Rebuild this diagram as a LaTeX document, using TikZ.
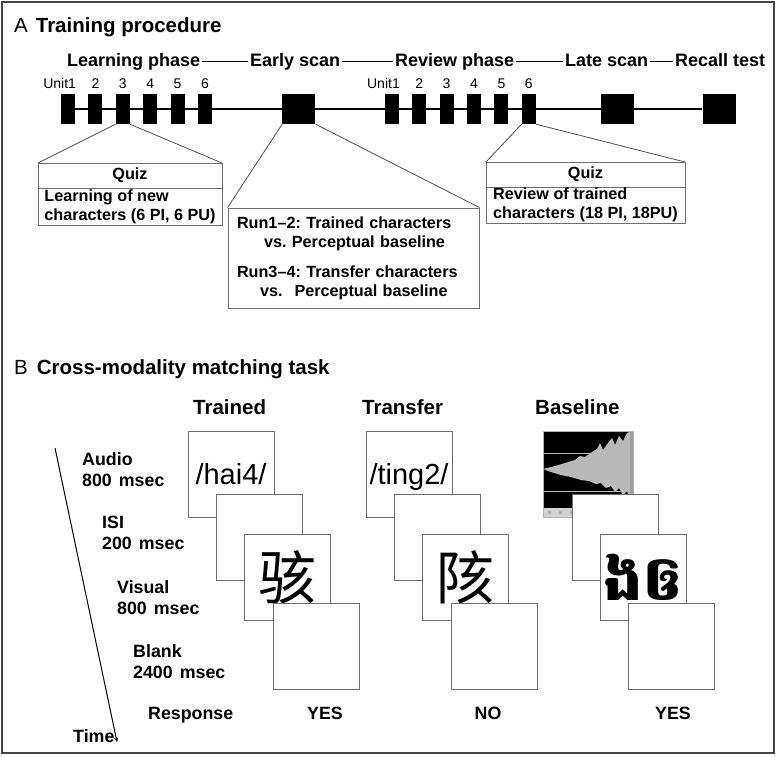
\documentclass[tikz,border=0pt]{standalone}
\usepackage{fontspec}
\setmainfont{Liberation Sans}
\newfontfamily\cjkfont{Noto Sans CJK SC}
\newfontfamily\khmerfont[Script=Khmer]{Battambang}
\usetikzlibrary{positioning, arrows}
\frenchspacing

\definecolor{framegray}{RGB}{70,70,70}
\definecolor{linegray}{RGB}{80,80,80}
\definecolor{boxgray}{RGB}{110,110,110}
\definecolor{wavegray}{RGB}{185,185,185}

\newcommand{\fsHead}{\fontsize{20.5}{24}\selectfont}
\newcommand{\fsPhase}{\fontsize{18}{21}\selectfont}
\newcommand{\fsUnit}{\fontsize{14}{17}\selectfont}
\newcommand{\fsBox}{\fontsize{16.2}{19}\selectfont}
\newcommand{\fsLabel}{\fontsize{17.8}{21}\selectfont}
\newcommand{\fsSound}{\fontsize{29}{34}\selectfont}
\newcommand{\fsGlyph}{\fontsize{58}{60}\selectfont}

\tikzset{
  >=stealth,
  unitbox/.style={fill=black, minimum width=14pt, minimum height=30pt, inner sep=0pt},
  scanbox/.style={fill=black, minimum width=33pt, minimum height=30pt, inner sep=0pt},
  unitlabel/.style={font=\fsUnit, inner sep=0pt},
  phase/.style={font=\fsPhase\bfseries, inner xsep=2pt, inner ysep=0pt, text height=13pt, text depth=4pt},
  phaseline/.style={line width=1.4pt},
  timeline/.style={line width=1.4pt},
  callout/.style={draw=linegray, line width=0.8pt},
  quizhead/.style={draw=boxgray, line width=0.9pt, outer sep=0pt, font=\fsBox\bfseries, minimum height=25pt, inner sep=0pt},
  quizbody/.style={draw=boxgray, line width=0.9pt, outer sep=0pt, font=\fsBox\bfseries, align=left, minimum height=37pt, inner sep=1pt},
  runbox/.style={draw=boxgray, line width=0.9pt, font=\fsBox\bfseries, align=left, text width=233pt, inner xsep=9pt, minimum height=100pt},
  stimbox/.style={draw=boxgray, line width=0.9pt, fill=white, minimum size=86pt, inner sep=0pt},
  sound/.style={font=\fsSound, text height=21pt, text depth=1pt},
  steplabel/.style={font=\fsLabel\bfseries, align=left, inner sep=0pt, anchor=north west},
  colhead/.style={font=\fsHead\bfseries, inner sep=0pt, anchor=base west},
  answer/.style={font=\fsLabel\bfseries, inner sep=0pt, anchor=base},
}

\begin{document}
\begin{tikzpicture}[x=1pt, y=-1pt]
  \useasboundingbox (0,0) rectangle (777,756);
  \draw[framegray, line width=2pt] (2,2) rectangle (774,753);

  % A: training procedure
  \node[anchor=base west, inner sep=0pt, font=\fsHead] (secA) at (14,32) {A\hspace{8pt}\bfseries Training procedure};

  \node[phase, anchor=base west] (lp) at (65,66)  {Learning phase};
  \node[phase, anchor=base west] (ep) at (248,66) {Early scan};
  \node[phase, anchor=base west] (rp) at (393,66) {Review phase};
  \node[phase, anchor=base west] (lt) at (563,66) {Late scan};
  \node[phase, anchor=base west] (rc) at (673,66) {Recall test};
  \draw[phaseline] (lp) -- (ep) (ep) -- (rp) (rp) -- (lt) (lt) -- (rc);

  \node[unitbox] (l1) at (68,109) {};
  \node[unitbox, right=13pt of l1] (l2) {};
  \node[unitbox, right=13pt of l2] (l3) {};
  \node[unitbox, right=13pt of l3] (l4) {};
  \node[unitbox, right=13pt of l4] (l5) {};
  \node[unitbox, right=13pt of l5] (l6) {};
  \node[scanbox, right=70pt of l6] (es) {};
  \node[unitbox, right=69pt of es] (r1) {};
  \node[unitbox, right=13pt of r1] (r2) {};
  \node[unitbox, right=13pt of r2] (r3) {};
  \node[unitbox, right=13pt of r3] (r4) {};
  \node[unitbox, right=13pt of r4] (r5) {};
  \node[unitbox, right=13pt of r5] (r6) {};
  \node[scanbox, right=65pt of r6] (ls) {};
  \node[scanbox, right=68pt of ls] (rt) {};
  \draw[timeline] (l1) -- (rt);

  \node[unitlabel, above left=5pt and -1pt of l1.north east] (ul1) {Unit1};
  \node[unitlabel, above=5pt of l2] (ul2) {2};
  \node[unitlabel, above=5pt of l3] (ul3) {3};
  \node[unitlabel, above=5pt of l4] (ul4) {4};
  \node[unitlabel, above=5pt of l5] (ul5) {5};
  \node[unitlabel, above=5pt of l6] (ul6) {6};
  \node[unitlabel, above left=5pt and -1pt of r1.north east] (ur1) {Unit1};
  \node[unitlabel, above=5pt of r2] (ur2) {2};
  \node[unitlabel, above=5pt of r3] (ur3) {3};
  \node[unitlabel, above=5pt of r4] (ur4) {4};
  \node[unitlabel, above=5pt of r5] (ur5) {5};
  \node[unitlabel, above=5pt of r6] (ur6) {6};

  \node[quizhead, minimum width=184pt] (q1) at (130,175.5) {Quiz};
  \node[quizbody, minimum width=184pt, below=0pt of q1] (q1b) {Learning of new\\characters (6 PI, 6 PU)};
  \draw[callout] (l3.south west) -- (q1.north west) (l3.south east) -- (q1.north east);

  \node[runbox] (run) at (353.5,258) {Run1\textendash2: Trained characters\\
    \hspace*{27pt}vs. Perceptual baseline\\[11pt]
    Run3\textendash4: Transfer characters\\
    \hspace*{23pt}vs.\hspace{12pt}Perceptual baseline};
  \draw[callout] (es.south west) -- (run.north west) (es.south east) -- (run.north east);

  \node[quizhead, minimum width=199pt] (q2) at (585.5,174.5) {Quiz};
  \node[quizbody, minimum width=199pt, minimum height=36pt, below=0pt of q2] (q2b) {Review of trained\\characters (18 PI, 18PU)};
  \draw[callout] (r6.south west) -- (q2.north west) (r6.south east) -- (q2.north east);

  % B: cross-modality matching task
  \node[anchor=base west, inner sep=0pt, font=\fsHead] (secB) at (14,374) {B\hspace{9pt}\bfseries Cross-modality matching task};

  \node[colhead] (htr) at (193,414) {Trained};
  \node[colhead] (htf) at (362,414) {Transfer};
  \node[colhead] (hbl) at (535,414) {Baseline};

  \coordinate (t0) at (55,448);
  \coordinate (t1) at (117,742);
  \node[anchor=base west, font=\fsLabel\bfseries, inner sep=0pt] (time) at (73,742) {Time};
  \draw[->, line width=1pt] (t0) -- (t1);

  \node[steplabel] (sa) at (82,452.5)  {Audio\\800\hspace{7pt}msec};
  \node[steplabel] (si) at (102,515.5) {ISI\\200\hspace{7pt}msec};
  \node[steplabel] (sv) at (117,580.5) {Visual\\800\hspace{7pt}msec};
  \node[steplabel] (sb) at (133,644.5) {Blank\\2400\hspace{7pt}msec};
  \node[answer, anchor=base west] (sr) at (148,719) {Response};

  % trained
  \node[stimbox, sound] (tra) at (231,474) {/hai4/};
  \node[stimbox] (tri) at (259,537) {};
  \node[stimbox, font=\fsGlyph\cjkfont] (trv) at (287.5,577) {骇};
  \node[stimbox] (trb) at (316,646) {};

  % transfer
  \node[stimbox, sound] (tfa) at (409,474) {/ting2/};
  \node[stimbox] (tfi) at (437,537) {};
  \node[stimbox, font=\fsGlyph\cjkfont] (tfv) at (465,577) {陔};
  \node[stimbox] (tfb) at (494,646) {};

  % baseline: waveform
  \begin{scope}[shift={(543,431)}]
    \fill[black] (0,0) rectangle (90,77);
    \draw[gray!55, very thin] (0,22) -- (90,22) (0,60) -- (90,60);
    \fill[wavegray] (0,38) -- (12,35) -- (22,32) -- (32,29) -- (37,25) -- (42,26) -- (49,21)
      -- (54,18) -- (57,12) -- (60,19) -- (65,12) -- (69,7) -- (72,14) -- (76,5) -- (80,10)
      -- (84,2) -- (88,0) -- (88,70) -- (84,60) -- (80,64) -- (76,57) -- (72,61) -- (68,55)
      -- (63,57) -- (58,52) -- (53,53) -- (46,50) -- (38,49) -- (28,46) -- (18,44) -- (8,41) -- cycle;
    \fill[gray!75] (87,0) rectangle (90,77);
    \fill[gray!35] (0,77) rectangle (90,86);
    \fill[gray!65] (5,80) rectangle (8,83) (16,80) rectangle (19,83) (27,80) rectangle (30,83);
    \draw[gray!60, thin] (0,0) rectangle (90,86);
  \end{scope}
  \node[stimbox] (bli) at (615,537) {};
  \node[stimbox, font=\fontsize{62}{64}\selectfont\khmerfont\bfseries] (blv) at (643,577) {ងឲ};
  \node[stimbox] (blb) at (671.5,646) {};

  \node[answer] (atr) at (325,719) {YES};
  \node[answer] (atf) at (488,719) {NO};
  \node[answer] (abl) at (673,719) {YES};
\end{tikzpicture}
\end{document}
